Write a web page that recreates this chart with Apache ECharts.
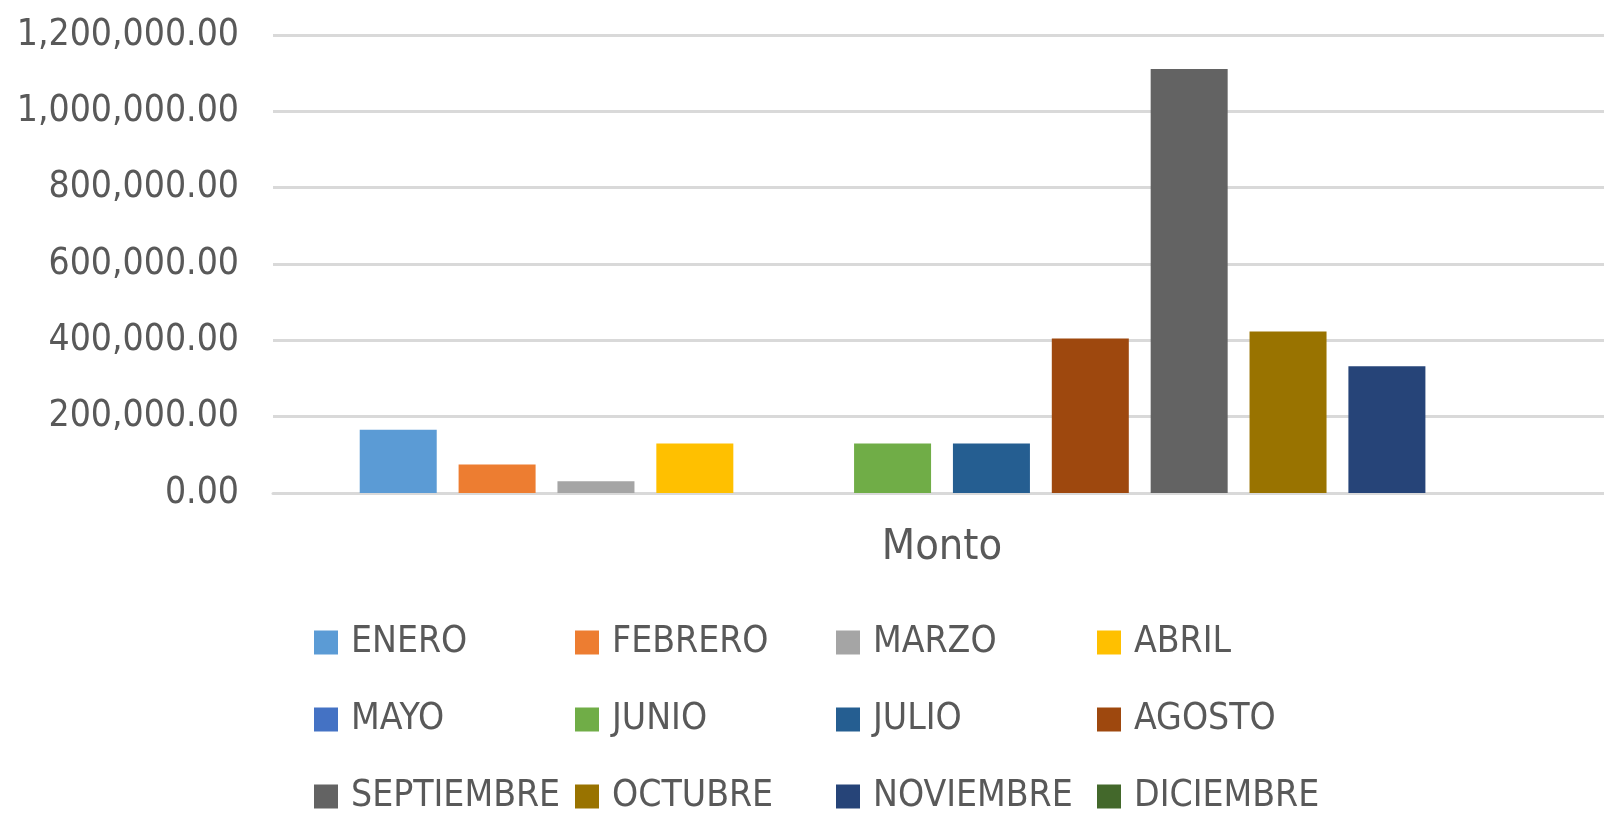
<!DOCTYPE html>
<html>
<head>
<meta charset="utf-8">
<title>Monto</title>
<script src="https://cdn.jsdelivr.net/npm/echarts@6/dist/echarts.min.js"></script>
<style>
  html, body { margin: 0; padding: 0; background: #fff; }
  #chart { width: 1604px; height: 814px; }
</style>
</head>
<body>
<div id="chart"></div>
<script>
// datos
var categories = ['Monto'];
var meses = ['ENERO', 'FEBRERO', 'MARZO', 'ABRIL', 'MAYO', 'JUNIO',
             'JULIO', 'AGOSTO', 'SEPTIEMBRE', 'OCTUBRE', 'NOVIEMBRE', 'DICIEMBRE'];
var montos = [166000, 75000, 31000, 130000, null, 130000,
              130000, 405000, 1111000, 423000, 332000, null];
var colores = ['#5b9bd5', '#ed7d31', '#a5a5a5', '#ffc000', '#4472c4', '#70ad47',
               '#255e91', '#9e480e', '#636363', '#997300', '#264478', '#43682b'];
var yTicks = [0, 200000, 400000, 600000, 800000, 1000000, 1200000];

var fuente = "'DejaVu Sans Condensed', 'Liberation Sans Narrow', sans-serif";
var gris = '#595959';

var chart = echarts.init(document.getElementById('chart'));

var series = [];
for (var i = 0; i < meses.length; i++) {
    series.push({
        name: meses[i],
        type: 'bar',
        barWidth: 77,
        barGap: '28.4%',
        itemStyle: { color: colores[i] },
        data: [montos[i] === null ? '-' : montos[i]]
    });
}

var option = {
    animation: false,
    backgroundColor: '#fff',
    grid: {
        left: 273,
        width: 1338,
        top: 35,
        bottom: 321,
        containLabel: false,
        outerBoundsMode: 'none'
    },
    legend: {
        data: meses,
        left: 309,
        top: 599,
        width: 1070,
        itemGap: 0,
        itemWidth: 24,
        itemHeight: 24,
        icon: 'rect',
        textStyle: {
            fontFamily: fuente,
            fontSize: 37,
            color: gris,
            width: 224,
            lineHeight: 77,
            padding: [0, 0, 0, 8]
        }
    },
    xAxis: {
        type: 'category',
        data: categories,
        axisTick: { show: false },
        axisLine: { lineStyle: { color: '#d9d9d9', width: 3 } },
        axisLabel: {
            margin: 33,
            fontFamily: fuente,
            fontSize: 43,
            color: gris
        }
    },
    yAxis: {
        type: 'value',
        min: yTicks[0],
        max: yTicks[yTicks.length - 1],
        interval: yTicks[1] - yTicks[0],
        axisLine: { show: false },
        axisTick: { show: false },
        splitLine: { lineStyle: { color: '#d9d9d9', width: 3 } },
        axisLabel: {
            margin: 34,
            fontFamily: fuente,
            fontSize: 37,
            color: gris,
            formatter: function (v) {
                return v.toLocaleString('en-US', { minimumFractionDigits: 2, maximumFractionDigits: 2 });
            }
        }
    },
    series: series
};

chart.setOption(option);
</script>
</body>
</html>
